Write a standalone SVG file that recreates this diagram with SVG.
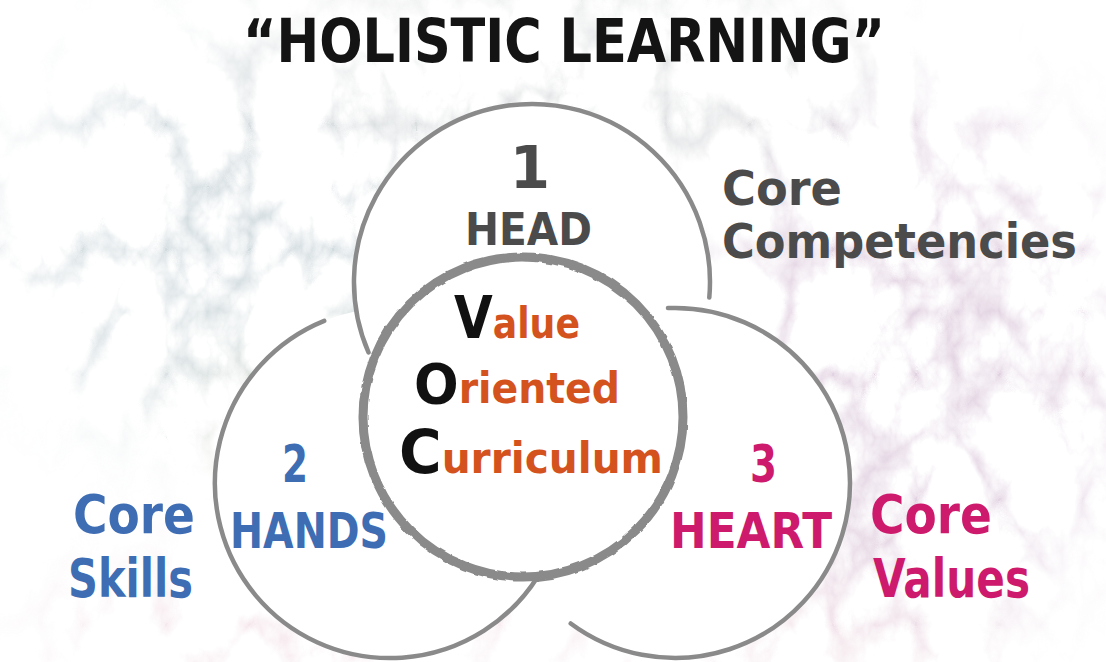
<svg xmlns="http://www.w3.org/2000/svg" width="1106" height="662" viewBox="0 0 1106 662">
  <defs>
    <style>
      .hand { font-family: "DejaVu Sans", "Liberation Sans", sans-serif; font-weight: bold; }
      .ring { fill: none; stroke: #8a8a8a; stroke-width: 4.5; stroke-linecap: round; }
      .fillw { fill: #ffffff; stroke: none; }
      .title { fill: #141414; font-size: 60px; }
      .grey { fill: #4b4b4b; }
      .blue { fill: #3e6db4; }
      .pink { fill: #cd1a6c; }
      .orange { fill: #d4521d; font-size: 42px; }
      .cap { fill: #111111; }
    </style>
    <!-- soft marbled wash behind the diagram -->
    <filter id="marbleFx" x="-20%" y="-20%" width="140%" height="140%" color-interpolation-filters="sRGB">
      <feGaussianBlur in="SourceGraphic" stdDeviation="50" result="soft"/>
      <feTurbulence type="turbulence" baseFrequency="0.012 0.008" numOctaves="5" seed="11" result="noise"/>
      <feColorMatrix in="noise" type="matrix" values="0 0 0 0 0  0 0 0 0 0  0 0 0 0 0  -3.4 0 0 0 1" result="veins"/>
      <feComposite in="soft" in2="veins" operator="in"/>
    </filter>
    <!-- rough brush edge for the centre ring -->
    <filter id="roughFx" x="-5%" y="-5%" width="110%" height="110%">
      <feTurbulence type="fractalNoise" baseFrequency="0.09" numOctaves="2" seed="4" result="n"/>
      <feDisplacementMap in="SourceGraphic" in2="n" scale="3" xChannelSelector="R" yChannelSelector="G"/>
    </filter>
  </defs>

  <rect width="1106" height="662" fill="#ffffff"/>

  <!-- marbled background -->
  <g id="background" filter="url(#marbleFx)" opacity="0.38">
    <ellipse cx="260" cy="240" rx="250" ry="200" fill="#8aa3ad"/>
    <ellipse cx="560" cy="90" rx="340" ry="90" fill="#a7adb0"/>
    <ellipse cx="920" cy="360" rx="210" ry="260" fill="#b58db4"/>
    <ellipse cx="300" cy="630" rx="260" ry="50" fill="#dba2b4"/>
    <ellipse cx="760" cy="640" rx="240" ry="40" fill="#dba2b4"/>
    <ellipse cx="330" cy="420" rx="120" ry="60" fill="#d8d6a8"/>
  </g>

  <!-- white interiors of the rings -->
  <g id="interiors">
    <circle class="fillw" cx="675" cy="483" r="175"/>
    <circle class="fillw" cx="390" cy="483" r="175"/>
    <circle class="fillw" cx="532" cy="282" r="178"/>
    <circle class="fillw" cx="523" cy="417" r="160"/>
  </g>

  <g id="connectors"></g>

  <!-- title -->
  <g id="title">
    <text class="hand title" x="243" y="62" textLength="642" lengthAdjust="spacingAndGlyphs">“HOLISTIC LEARNING”</text>
  </g>

  <!-- 1 HEAD -->
  <g id="node-head">
    <path class="ring" d="M368.5,352.4 A178,178 0 1 1 709.3,297.5"/>
    <text class="hand grey" x="530" y="188" font-size="58" text-anchor="middle">1</text>
    <text class="hand grey" x="465" y="245" font-size="44" textLength="127" lengthAdjust="spacingAndGlyphs">HEAD</text>
  </g>

  <!-- 2 HANDS -->
  <g id="node-hands">
    <path class="ring" d="M324.2,320.9 A175,175 0 1 0 538.2,576"/>
    <text class="hand blue" x="282" y="482" font-size="52" textLength="26" lengthAdjust="spacingAndGlyphs">2</text>
    <text class="hand blue" x="230" y="548" font-size="50" textLength="158" lengthAdjust="spacingAndGlyphs">HANDS</text>
  </g>

  <!-- 3 HEART -->
  <g id="node-heart">
    <path class="ring" d="M668,308.1 A175,175 0 1 1 570.7,623.5"/>
    <text class="hand pink" x="750" y="482" font-size="52" textLength="27" lengthAdjust="spacingAndGlyphs">3</text>
    <text class="hand pink" x="670" y="548" font-size="50" textLength="162" lengthAdjust="spacingAndGlyphs">HEART</text>
  </g>

  <!-- Value Oriented Curriculum: black initials, orange remainder -->
  <g id="node-voc">
    <circle cx="523" cy="417" r="160" fill="none" stroke="#8a8a8a" stroke-width="9" filter="url(#roughFx)"/>
    <text class="hand" x="454" y="338" textLength="126" lengthAdjust="spacingAndGlyphs"><tspan class="cap" font-size="58">V</tspan><tspan class="orange">alue</tspan></text>
    <text class="hand" x="414" y="403" textLength="206" lengthAdjust="spacingAndGlyphs"><tspan class="cap" font-size="56">O</tspan><tspan class="orange">riented</tspan></text>
    <text class="hand" x="399" y="473" textLength="264" lengthAdjust="spacingAndGlyphs"><tspan class="cap" font-size="60">C</tspan><tspan class="orange">urriculum</tspan></text>
  </g>

  <!-- side captions -->
  <g id="label-competencies" class="hand grey" font-size="48">
    <text x="722" y="205" textLength="120" lengthAdjust="spacingAndGlyphs">Core</text>
    <text x="722" y="258" textLength="355" lengthAdjust="spacingAndGlyphs">Competencies</text>
  </g>
  <g id="label-skills" class="hand blue" font-size="54">
    <text x="73" y="533" textLength="122" lengthAdjust="spacingAndGlyphs">Core</text>
    <text x="68" y="597" textLength="125" lengthAdjust="spacingAndGlyphs">Skills</text>
  </g>
  <g id="label-values" class="hand pink" font-size="54">
    <text x="870" y="533" textLength="122" lengthAdjust="spacingAndGlyphs">Core</text>
    <text x="873" y="597" textLength="157" lengthAdjust="spacingAndGlyphs">Values</text>
  </g>
</svg>
